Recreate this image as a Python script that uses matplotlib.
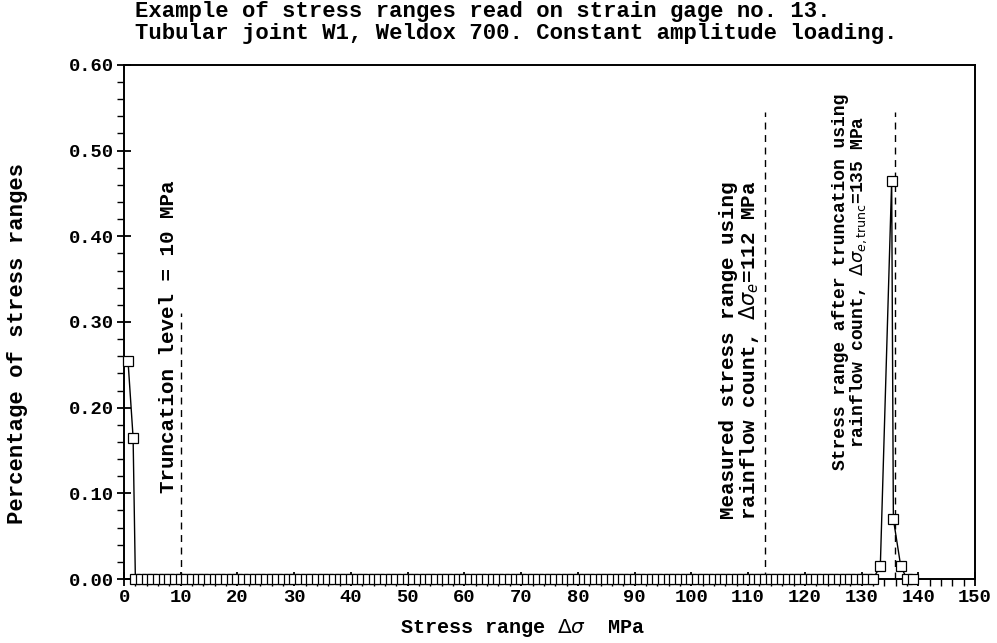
import matplotlib
matplotlib.use("Agg")
import matplotlib.pyplot as plt
from matplotlib.ticker import MultipleLocator

# Stress range bins (MPa) and fraction of cycles
low_x = [0.7, 1.6]
low_y = [0.255, 0.165]
zero_bins = list(range(2, 133))
zero_vals = [0.0] * len(zero_bins)
peak_x = [133.3, 135.3, 135.6, 136.9, 138.0, 139.0]
peak_y = [0.015, 0.465, 0.07, 0.015, 0.0, 0.0]

stress = low_x + zero_bins + peak_x
fraction = low_y + zero_vals + peak_y

# reference levels (MPa) and heights of the dashed markers
trunc_level = 10
trunc_top = 0.31
measured_level = 113
trunc_range_level = 135.9
level_top = 0.545

mono = "Liberation Mono"

fig = plt.figure(figsize=(9.97, 6.43), dpi=100)
ax = fig.add_axes([0.1244, 0.0995, 0.8536, 0.7995])

ax.plot(stress, fraction, color="black", linewidth=1.0, marker="s",
        markersize=6.5, markerfacecolor="white", markeredgecolor="black",
        markeredgewidth=0.9, clip_on=False, zorder=3)

ax.plot([trunc_level, trunc_level], [0, trunc_top], "k--", linewidth=1.0, dashes=(5, 4))
ax.plot([measured_level, measured_level], [0, level_top], "k--", linewidth=1.0, dashes=(5, 4))
ax.plot([trunc_range_level, trunc_range_level], [0, level_top], "k--", linewidth=1.0, dashes=(5, 4))

ax.set_xlim(0, 150)
ax.set_ylim(0, 0.60)
ax.xaxis.set_major_locator(MultipleLocator(10))
ax.xaxis.set_minor_locator(MultipleLocator(2))
ax.yaxis.set_major_locator(MultipleLocator(0.10))
ax.yaxis.set_minor_locator(MultipleLocator(0.02))
ax.yaxis.set_major_formatter(plt.FuncFormatter(lambda v, p: f"{v:.2f}"))
ax.tick_params(which="major", direction="inout", length=10, width=1.3, pad=2)
ax.tick_params(which="minor", direction="out", length=5, width=1.0)
for lab in ax.get_xticklabels() + ax.get_yticklabels():
    lab.set_fontfamily(mono)
    lab.set_fontweight("bold")
    lab.set_fontsize(13.5)
for s in ax.spines.values():
    s.set_linewidth(1.4)

ax.set_xlabel(r"Stress range $\Delta\sigma$  MPa", fontfamily=mono,
              fontweight="bold", fontsize=14.5)
ax.xaxis.set_label_coords(0.468, -0.095)
ax.xaxis.label.set_va("center")
ax.set_ylabel("Percentage of stress ranges", fontfamily=mono,
              fontweight="bold", fontsize=16)
ax.yaxis.set_label_coords(-0.1246, 0.459)
ax.yaxis.label.set_va("center")

fig.text(0.135, 1 - 12 / 643, "Example of stress ranges read on strain gage no. 13.",
         fontfamily=mono, fontweight="bold", fontsize=16, va="center", ha="left")
fig.text(0.135, 1 - 33 / 643, "Tubular joint W1, Weldox 700. Constant amplitude loading.",
         fontfamily=mono, fontweight="bold", fontsize=16, va="center", ha="left")

ax.text(7.8, 0.10, "Truncation level = 10 MPa", rotation=90, ha="center",
        va="bottom", fontfamily=mono, fontweight="bold", fontsize=15)
ax.text(108.6, 0.069, "Measured stress range using\nrainflow count, $\\Delta\\sigma_e$=112 MPa",
        rotation=90, ha="center", va="bottom", fontfamily=mono,
        fontweight="bold", fontsize=15, linespacing=0.95)
ax.text(128.0, 0.127, "Stress range after truncation using\nrainflow count, $\\Delta\\sigma_{e,\\mathrm{trunc}}$=135 MPa",
        rotation=90, ha="center", va="bottom", fontfamily=mono,
        fontweight="bold", fontsize=13, linespacing=0.95)

fig.savefig("out.png", dpi=100)
